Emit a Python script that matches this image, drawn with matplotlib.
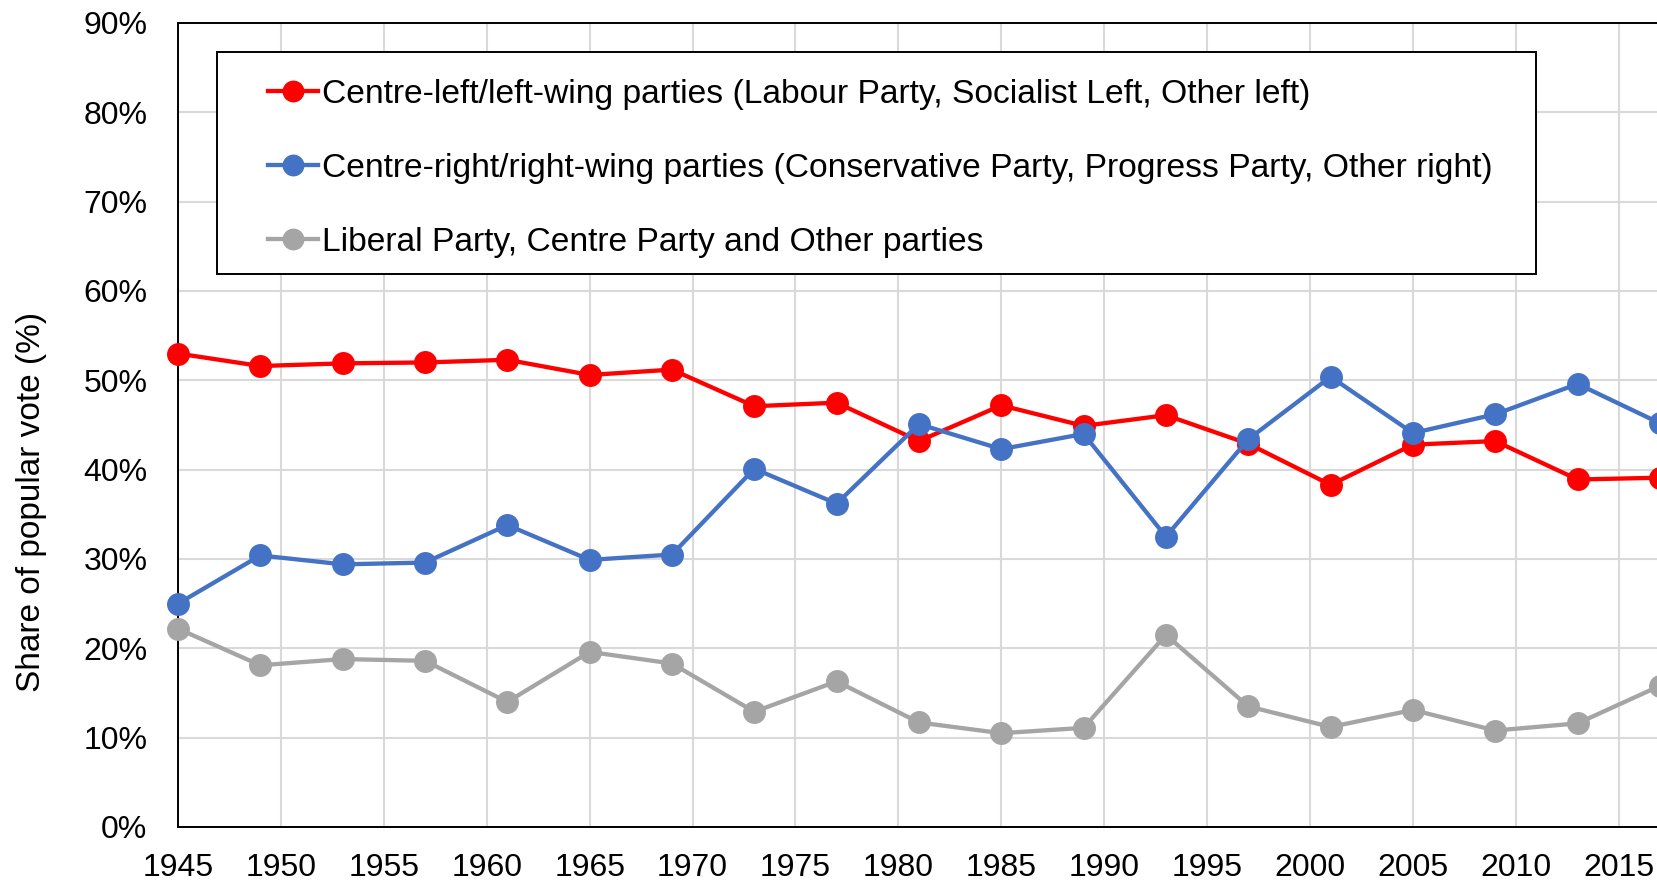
import matplotlib
matplotlib.use("Agg")
import matplotlib.pyplot as plt
from matplotlib.patches import Rectangle
from matplotlib.ticker import PercentFormatter

plt.rcParams['font.family'] = ['Liberation Sans', 'DejaVu Sans']

# Election years and vote shares (%)
years = [1945, 1949, 1953, 1957, 1961, 1965, 1969, 1973, 1977, 1981,
         1985, 1989, 1993, 1997, 2001, 2005, 2009, 2013, 2017]
left_share = [53.0, 51.6, 51.9, 52.0, 52.3, 50.6, 51.2, 47.1, 47.5, 43.2,
              47.2, 44.9, 46.1, 42.9, 38.3, 42.8, 43.2, 38.9, 39.1]
right_share = [25.0, 30.4, 29.4, 29.6, 33.8, 29.9, 30.5, 40.1, 36.2, 45.1,
               42.3, 44.0, 32.5, 43.4, 50.4, 44.1, 46.2, 49.6, 45.2]
other_share = [22.2, 18.1, 18.8, 18.6, 14.0, 19.6, 18.3, 12.9, 16.3, 11.7,
               10.5, 11.1, 21.5, 13.5, 11.2, 13.1, 10.8, 11.6, 15.8]

labels = [
    'Centre-left/left-wing parties (Labour Party, Socialist Left, Other left)',
    'Centre-right/right-wing parties (Conservative Party, Progress Party, Other right)',
    'Liberal Party, Centre Party and Other parties',
]
colors = ['#FF0000', '#4472C4', '#A5A5A5']

W, H = 1657, 884
fig = plt.figure(figsize=(W / 100, H / 100), dpi=100)

# plot area in pixels; the right side runs past the image edge (cropped chart)
left_px, top_px, bottom_px = 178, 23, 827
year_px = (1310 - 178) / 55.0
x_max = 2020
width_px = (x_max - 1945) * year_px
plot_h = bottom_px - top_px
ax = fig.add_axes([left_px / W, (H - bottom_px) / H, width_px / W, plot_h / H])

for vals, lab, col in zip([left_share, right_share, other_share], labels, colors):
    ax.plot(years, vals, color=col, linewidth=3.1, marker='o', markersize=15.5,
            markeredgecolor=col, label=lab, clip_on=False, zorder=3)

ax.set_xlim(1945, x_max)
ax.set_ylim(0, 90)
ax.set_xticks(range(1945, x_max + 1, 5))
ax.set_yticks(range(0, 91, 10))
ax.yaxis.set_major_formatter(PercentFormatter(decimals=0))
ax.grid(True, color='#D9D9D9', linewidth=1.5, zorder=0)
ax.set_axisbelow(True)

for sp in ax.spines.values():
    sp.set_color('black')
    sp.set_linewidth(1.4)

ax.tick_params(axis='both', length=0, labelsize=23, colors='black')
ax.tick_params(axis='y', pad=22)
ax.tick_params(axis='x', pad=19)

ax.set_ylabel('Share of popular vote (%)', fontsize=24, va='center')
ax.yaxis.set_label_coords((32 - left_px) / width_px, (bottom_px - 502) / plot_h)

# legend box drawn as its own rectangle, entries placed inside
box = Rectangle(((217 - left_px) / width_px, (bottom_px - 274) / plot_h),
                (1536 - 217) / width_px, (274 - 52) / plot_h,
                transform=ax.transAxes, facecolor='white', edgecolor='black',
                linewidth=1.4, zorder=4)
ax.add_patch(box)
leg = ax.legend(loc='upper left',
                bbox_to_anchor=((268 - left_px) / width_px, (bottom_px - 78.5) / plot_h),
                frameon=False, borderpad=0, borderaxespad=0, fontsize=24.2,
                handlelength=1.5, handletextpad=0.12, labelspacing=1.29,
                numpoints=1, markerscale=0.95)
leg.set_zorder(5)

fig.savefig('out.png', dpi=100)
